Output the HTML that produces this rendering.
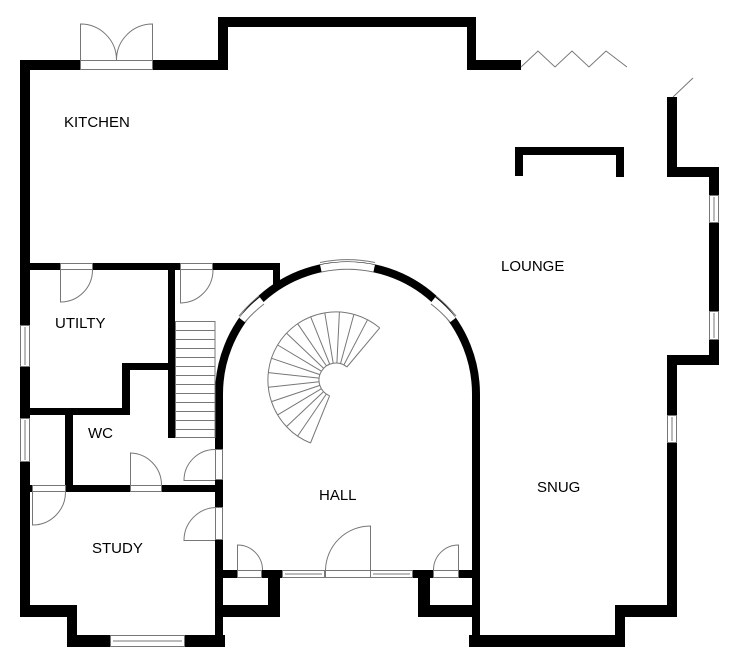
<!DOCTYPE html>
<html><head><style>
html,body{margin:0;padding:0;background:#fff}
svg{display:block}
text{font-family:"Liberation Sans",Arial,sans-serif;font-size:15px;fill:#000}
</style></head><body>
<svg width="740" height="664" viewBox="0 0 740 664" xmlns="http://www.w3.org/2000/svg">
<g fill="#000">
<rect x="20" y="60" width="10" height="265"/>
<rect x="20" y="367" width="10" height="51"/>
<rect x="20" y="462" width="10" height="155"/>
<rect x="20" y="60" width="60" height="10"/>
<rect x="153" y="60" width="75" height="10"/>
<rect x="218" y="17" width="10" height="53"/>
<rect x="218" y="17" width="258" height="10"/>
<rect x="467" y="17" width="9" height="53"/>
<rect x="467" y="60" width="54" height="10"/>
<rect x="667" y="97" width="10" height="80"/>
<rect x="667" y="167" width="52" height="10"/>
<rect x="709" y="167" width="10" height="28"/>
<rect x="709" y="223" width="10" height="88"/>
<rect x="709" y="340" width="10" height="25"/>
<rect x="667" y="355" width="52" height="10"/>
<rect x="667" y="355" width="10" height="60"/>
<rect x="667" y="443" width="10" height="174"/>
<rect x="615" y="605" width="62" height="12"/>
<rect x="615" y="605" width="10" height="42"/>
<rect x="469" y="635" width="156" height="12"/>
<rect x="515" y="147" width="109" height="8"/>
<rect x="515" y="147" width="8" height="29"/>
<rect x="616" y="147" width="8" height="30"/>
<rect x="472" y="394" width="8" height="253"/>
<rect x="215" y="394" width="8" height="55"/>
<rect x="215" y="480" width="8" height="27"/>
<rect x="215" y="540" width="8" height="107"/>
<rect x="222" y="570" width="15" height="8"/>
<rect x="262" y="570" width="20" height="8"/>
<rect x="268" y="570" width="12" height="47"/>
<rect x="222" y="605" width="58" height="12"/>
<rect x="412" y="570" width="21" height="8"/>
<rect x="458" y="570" width="16" height="8"/>
<rect x="418" y="570" width="12" height="47"/>
<rect x="418" y="605" width="56" height="12"/>
<rect x="20" y="605" width="57" height="12"/>
<rect x="67" y="605" width="10" height="42"/>
<rect x="67" y="635" width="43" height="12"/>
<rect x="185" y="635" width="40" height="12"/>
<rect x="20" y="263" width="40" height="7"/>
<rect x="92" y="263" width="88" height="7"/>
<rect x="213" y="263" width="67" height="7"/>
<rect x="273" y="263" width="7" height="22"/>
<rect x="168" y="263" width="7" height="175"/>
<rect x="122" y="363" width="53" height="7"/>
<rect x="122" y="363" width="8" height="52"/>
<rect x="20" y="408" width="110" height="7"/>
<rect x="65" y="408" width="8" height="84"/>
<rect x="20" y="485" width="12" height="7"/>
<rect x="65" y="485" width="65" height="7"/>
<rect x="161" y="485" width="57" height="7"/>
</g>
<path d="M219 394 A128.5 128.5 0 0 1 476 394" fill="none" stroke="#000" stroke-width="8"/>
<g fill="none" stroke="#fff" stroke-width="7">
<path d="M320.8 268.3 A128.5 128.5 0 0 1 374.2 268.3"/>
<path d="M242 320 A128.5 128.5 0 0 1 262 300"/>
<path d="M433 300 A128.5 128.5 0 0 1 453 320"/>
</g>
<g fill="none" stroke="#777" stroke-width="1">
<path d="M320 262.5 A132.5 132.5 0 0 1 375 262.5"/>
<path d="M321.5 272 A124.5 124.5 0 0 1 373.5 272"/>
<path d="M239 316 A132.5 132.5 0 0 1 259 296"/>
<path d="M436 296 A132.5 132.5 0 0 1 456 316"/>
<path d="M245 322 A124.5 124.5 0 0 1 264 304"/>
<path d="M431 304 A124.5 124.5 0 0 1 450 322"/>
<rect x="20.5" y="325.5" width="9" height="41"/><line x1="25" y1="327" x2="25" y2="365"/>
<rect x="20.5" y="418.5" width="9" height="43"/><line x1="25" y1="420" x2="25" y2="460"/>
<rect x="709.5" y="195.5" width="9" height="27"/><line x1="714" y1="197" x2="714" y2="221"/>
<rect x="709.5" y="311.5" width="9" height="28"/><line x1="714" y1="313" x2="714" y2="338"/>
<rect x="667.5" y="415.5" width="9" height="27"/><line x1="672" y1="417" x2="672" y2="441"/>
<rect x="110.5" y="635.5" width="74" height="11"/><line x1="113" y1="641" x2="182" y2="641"/>
<rect x="282.5" y="570.5" width="42" height="7"/><line x1="285" y1="574" x2="322" y2="574"/>
<rect x="370.5" y="570.5" width="42" height="7"/><line x1="373" y1="574" x2="410" y2="574"/>
<rect x="80.5" y="60.5" width="72" height="9"/>
<rect x="60.5" y="263.5" width="32" height="6"/>
<rect x="180.5" y="263.5" width="32" height="6"/>
<rect x="32.5" y="485.5" width="33" height="6"/>
<rect x="130.5" y="485.5" width="31" height="6"/>
<rect x="215.5" y="449.5" width="7" height="30"/>
<rect x="215.5" y="507.5" width="7" height="32"/>
<rect x="237.5" y="570.5" width="24" height="7"/>
<rect x="325.5" y="570.5" width="45" height="7"/>
<rect x="433.5" y="570.5" width="25" height="7"/>
<path d="M80.5 60 V24 A36 36 0 0 1 116.5 60"/>
<path d="M152.5 60 V24 A36 36 0 0 0 116.5 60"/>
<path d="M60.5 270 V302 A32 32 0 0 0 92.5 270"/>
<path d="M180.5 270 V303 A33 33 0 0 0 213 270"/>
<path d="M32.5 492 V525 A33 33 0 0 0 65.5 492"/>
<path d="M130.5 485 V453 A32 32 0 0 1 161.5 485"/>
<path d="M215 480.5 H184 A31 31 0 0 1 215 449.5"/>
<path d="M215 540.5 H184 A33 33 0 0 1 215 507.5"/>
<path d="M237.5 570 V545 A25 25 0 0 1 262.5 570"/>
<path d="M370.5 570 V526 A45 45 0 0 0 325.5 570"/>
<path d="M458.5 570 V545 A25 25 0 0 0 433.5 570"/>
<path d="M521 67 L538 51 L555 67 L572 51 L589 67 L606 51 L627 67"/>
<line x1="673" y1="97" x2="693" y2="78"/>
<rect x="175.5" y="321.5" width="39.5" height="116"/>
<line x1="175" y1="330.5" x2="215" y2="330.5"/><line x1="175" y1="339.5" x2="215" y2="339.5"/>
<line x1="175" y1="348.5" x2="215" y2="348.5"/><line x1="175" y1="357.5" x2="215" y2="357.5"/>
<line x1="175" y1="366.5" x2="215" y2="366.5"/><line x1="175" y1="375.5" x2="215" y2="375.5"/>
<line x1="175" y1="384.5" x2="215" y2="384.5"/><line x1="175" y1="393.5" x2="215" y2="393.5"/>
<line x1="175" y1="402.5" x2="215" y2="402.5"/><line x1="175" y1="411.5" x2="215" y2="411.5"/>
<line x1="175" y1="420.5" x2="215" y2="420.5"/><line x1="175" y1="429.5" x2="215" y2="429.5"/>
</g>
<g id="spiral" stroke="#777" stroke-width="1" fill="none"></g>
<text x="64" y="127">KITCHEN</text>
<text x="501" y="271">LOUNGE</text>
<text x="55" y="328">UTILTY</text>
<text x="88" y="438">WC</text>
<text x="92" y="553">STUDY</text>
<text x="319" y="500">HALL</text>
<text x="537" y="492">SNUG</text>
</svg>
<script>
(function(){
var g=document.getElementById('spiral'),cx=336,cy=380,ri=17,ro=68,a0=-50,a1=-248,n=16,s='';
function p(r,a){a=a*Math.PI/180;return [(cx+r*Math.cos(a)).toFixed(1),(cy+r*Math.sin(a)).toFixed(1)];}
var o0=p(ro,a0),o1=p(ro,a1),i0=p(ri,a0),i1=p(ri,a1);
s+='<path d="M'+o0+' A'+ro+' '+ro+' 0 1 0 '+o1+'"/>';
s+='<path d="M'+i0+' A'+ri+' '+ri+' 0 1 0 '+i1+'"/>';
for(var k=0;k<=n;k++){var a=a0+(a1-a0)*k/n,A=p(ri,a),B=p(ro,a);s+='<line x1="'+A[0]+'" y1="'+A[1]+'" x2="'+B[0]+'" y2="'+B[1]+'"/>';}
g.innerHTML=s;
})();
</script>
</body></html>
